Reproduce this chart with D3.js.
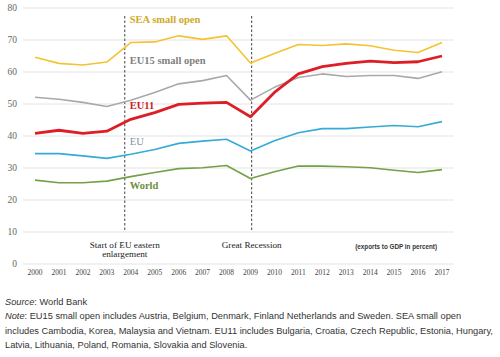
<!DOCTYPE html>
<html><head><meta charset="utf-8">
<script src="https://cdn.jsdelivr.net/npm/d3@7"></script>
<style>
body{margin:0;background:#fff;}
svg{display:block;}
.serif{font-family:"Liberation Serif","DejaVu Serif","Times New Roman",serif;}
.sans{font-family:"Liberation Sans",Arial,sans-serif;}
</style></head>
<body>
<svg id="c" width="500" height="357"></svg>
<script>
const years = [2000,2001,2002,2003,2004,2005,2006,2007,2008,2009,2010,2011,2012,2013,2014,2015,2016,2017];
const seaSmallOpen = [64.6,62.7,62.2,63.1,69.2,69.4,71.3,70.2,71.3,62.8,65.8,68.6,68.3,68.8,68.2,66.8,66.1,69.2];
const eu15SmallOpen = [52.1,51.5,50.5,49.2,51.2,53.6,56.3,57.3,58.9,51.2,55.2,58.3,59.4,58.6,58.9,58.9,58.0,60.1];
const eu11 = [40.8,41.8,40.8,41.5,45.2,47.3,49.9,50.3,50.5,46.0,53.6,59.4,61.7,62.7,63.4,62.9,63.2,65.0];
const eu = [34.5,34.5,33.8,33.0,34.3,35.8,37.7,38.4,39.0,35.3,38.5,41.0,42.3,42.3,42.8,43.3,42.9,44.5];
const world = [26.2,25.4,25.4,25.9,27.3,28.6,29.8,30.1,30.8,26.7,28.8,30.6,30.6,30.4,30.1,29.3,28.6,29.5];
const yTicks = [0,10,20,30,40,50,60,70,80];
const events = [{year:2003.75, label:["Start of EU eastern","enlargement"]},{year:2009.05, label:["Great Recession"]}];
const seriesNames = ["SEA small open","EU15 small open","EU11","EU","World"];
const footer = [
  [{t:"Source",i:true},{t:": World Bank"}],
  [{t:"Note",i:true},{t:": EU15 small open includes Austria, Belgium, Denmark, Finland Netherlands and Sweden. SEA small open"}],
  [{t:"includes Cambodia, Korea, Malaysia and Vietnam. EU11 includes Bulgaria, Croatia, Czech Republic, Estonia, Hungary,"}],
  [{t:"Latvia, Lithuania, Poland, Romania, Slovakia and Slovenia."}]
];

const series = [
  {name:seriesNames[0], values:seaSmallOpen, color:"#f5c232", label:"#d2a82a", w:1.6, ly:76.5, bold:true},
  {name:seriesNames[1], values:eu15SmallOpen, color:"#a9a9a9", label:"#7f7f7f", w:1.6, ly:63.8, bold:true},
  {name:seriesNames[2], values:eu11, color:"#dc1f26", label:"#cc1f26", w:2.8, ly:49.6, bold:true},
  {name:seriesNames[3], values:eu, color:"#35abd8", label:"#8391a8", w:1.6, ly:38.2, bold:false},
  {name:seriesNames[4], values:world, color:"#74a046", label:"#6b8f3c", w:1.6, ly:24.6, bold:true}
];

const svg = d3.select("#c");
const x = d3.scaleLinear().domain([2000,2017]).range([35,442]);
const y = d3.scaleLinear().domain([0,80]).range([264,8]);

// gridlines
svg.append("g").selectAll("line").data(yTicks).join("line")
  .attr("x1",23).attr("x2",454)
  .attr("y1",d=>y(d)).attr("y2",d=>y(d))
  .attr("stroke","#e4e4e4").attr("stroke-width",1);

// y labels
svg.append("g").selectAll("text").data(yTicks).join("text")
  .attr("class","serif")
  .attr("x",17).attr("y",d=>y(d)).attr("dy","0.35em")
  .attr("text-anchor","end")
  .attr("font-size",9.5).attr("fill","#666")
  .text(d=>d);

// x labels
svg.append("g").selectAll("text").data(years).join("text")
  .attr("class","serif")
  .attr("x",d=>x(d)).attr("y",272.5).attr("dy","0.35em")
  .attr("text-anchor","middle")
  .attr("font-size",7.5).attr("fill","#444")
  .text(d=>d);

// event lines
svg.append("g").selectAll("line").data(events).join("line")
  .attr("x1",d=>x(d.year)).attr("x2",d=>x(d.year))
  .attr("y1",y(77.5)).attr("y2",y(10))
  .attr("stroke","#444").attr("stroke-width",1).attr("stroke-dasharray","2.5,2");

events.forEach(ev=>{
  ev.label.forEach((l,i)=>{
    svg.append("text").attr("class","serif").attr("x",x(ev.year)).attr("y",y(6)+i*9).attr("dy","0.35em")
      .attr("text-anchor","middle").attr("font-size",9.2)
      .attr("fill","#222").text(l);
  });
});

svg.append("text").attr("class","sans").attr("x",x(2017)-5).attr("y",y(5.5)).attr("dy","0.35em")
  .attr("text-anchor","end")
  .attr("font-size",6.3).attr("font-weight","bold").attr("fill","#333")
  .text("(exports to GDP in percent)");

// lines
const line = d3.line().x((d,i)=>x(years[i])).y(d=>y(d));
svg.append("g").selectAll("path").data(series).join("path")
  .attr("d",d=>line(d.values)).attr("fill","none")
  .attr("stroke",d=>d.color).attr("stroke-width",d=>d.w)
  .attr("stroke-linejoin","round");

// series labels
svg.append("g").selectAll("text").data(series).join("text")
  .attr("class","serif")
  .attr("x",x(2003.75)+5).attr("y",d=>y(d.ly)).attr("dy","0.35em")
  .attr("font-size",10.5)
  .attr("font-weight",d=>d.bold?"bold":"normal")
  .attr("fill",d=>d.label).text(d=>d.name);

// footer
const fg = svg.append("g");
footer.forEach((parts,i)=>{
  const t = fg.append("text").attr("class","sans").attr("x",5).attr("y",302+i*14.2).attr("dy","0.35em")
    .attr("font-size",9.25).attr("fill","#333");
  parts.forEach(p=>{
    t.append("tspan").attr("font-style",p.i?"italic":"normal").text(p.t);
  });
});
</script>
</body></html>
